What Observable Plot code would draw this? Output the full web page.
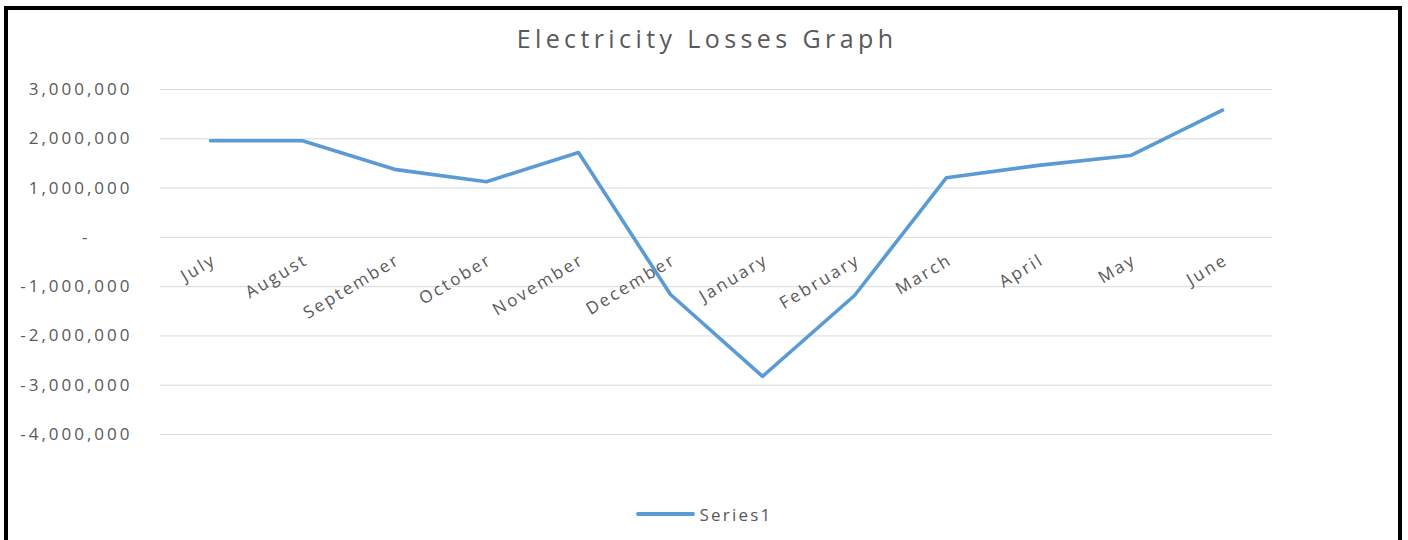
<!DOCTYPE html>
<html>
<head>
<meta charset="utf-8">
<script src="https://cdn.jsdelivr.net/npm/d3@7"></script>
<script src="https://cdn.jsdelivr.net/npm/@observablehq/plot@0.6"></script>
<style>
  html, body { margin: 0; padding: 0; background: #fff; }
  #page { position: relative; width: 1408px; height: 540px; overflow: hidden; font-family: "Open Sans", sans-serif; color: #595959; }
  #frame { position: absolute; left: 4px; top: 6px; width: 1390px; height: 560px; border: 4px solid #000; border-bottom: none; pointer-events: none; }
  #title { height: 68px; line-height: 76px; text-align: center; font-size: 25px; letter-spacing: 4.4px; padding-left: 6px; }
  #chart svg { display: block; }
  #chart g[aria-label="y-axis tick label"] text { letter-spacing: 3px; }
  #chart g[aria-label="text"] text { letter-spacing: 2.4px; }
  #legend { height: 52px; display: flex; align-items: center; justify-content: center; font-size: 17px; letter-spacing: 2.2px; padding-left: 0px; }
  #legend .swatch { width: 59px; height: 4px; background: #5B9BD5; border-radius: 2px; margin-right: 5px; }
</style>
</head>
<body>
<div id="page">
  <div id="title">Electricity Losses Graph</div>
  <div id="chart"></div>
  <div id="legend"><span class="swatch"></span><span>Series1</span></div>
  <div id="frame"></div>
</div>
<script>
// Monthly electricity losses (fiscal year July–June)
const months = ["July", "August", "September", "October", "November", "December",
                "January", "February", "March", "April", "May", "June"];
const losses = [1960000, 1960000, 1380000, 1130000, 1720000, -1160000,
                -2820000, -1180000, 1210000, 1460000, 1660000, 2580000];
const yTicks = [3000000, 2000000, 1000000, -1000000, -2000000, -3000000, -4000000];
const seriesName = "Series1";

const data = months.map((m, i) => ({month: m, value: losses[i]}));

const locale = d3.formatLocale({decimal: ".", thousands: ",", grouping: [3], currency: ["", ""], minus: "-"});
const fmt = locale.format(",");

const chart = Plot.plot({
  width: 1408,
  height: 420,
  marginLeft: 160,
  marginRight: 136,
  marginTop: 21,
  marginBottom: 54,
  style: {fontFamily: "Open Sans, sans-serif", color: "#595959", background: "transparent"},
  x: {type: "point", domain: months, padding: 0.5, axis: null},
  y: {domain: [-4000000, 3000000], axis: null},
  marks: [
    Plot.gridY([...yTicks, 0], {stroke: "#d9d9d9", strokeOpacity: 1, strokeWidth: 1}),
    Plot.axisY(yTicks, {label: null, tickSize: 0, tickPadding: 28, tickFormat: fmt, fontSize: 17, fill: "#595959"}),
    Plot.axisY([0], {label: null, tickSize: 0, tickPadding: 70, tickFormat: () => "-", fontSize: 17, fill: "#595959"}),
    Plot.text(data, {x: "month", y: () => 0, text: "month", dy: 21, dx: 4, rotate: -31,
      textAnchor: "end", lineAnchor: "middle", fontSize: 17, fill: "#595959"}),
    Plot.line(data, {x: "month", y: "value", stroke: "#5B9BD5", strokeWidth: 3.6,
      strokeLinejoin: "round", strokeLinecap: "round"})
  ]
});

document.getElementById("chart").appendChild(chart);
document.querySelector("#legend span:last-child").textContent = seriesName;
</script>
</body>
</html>
